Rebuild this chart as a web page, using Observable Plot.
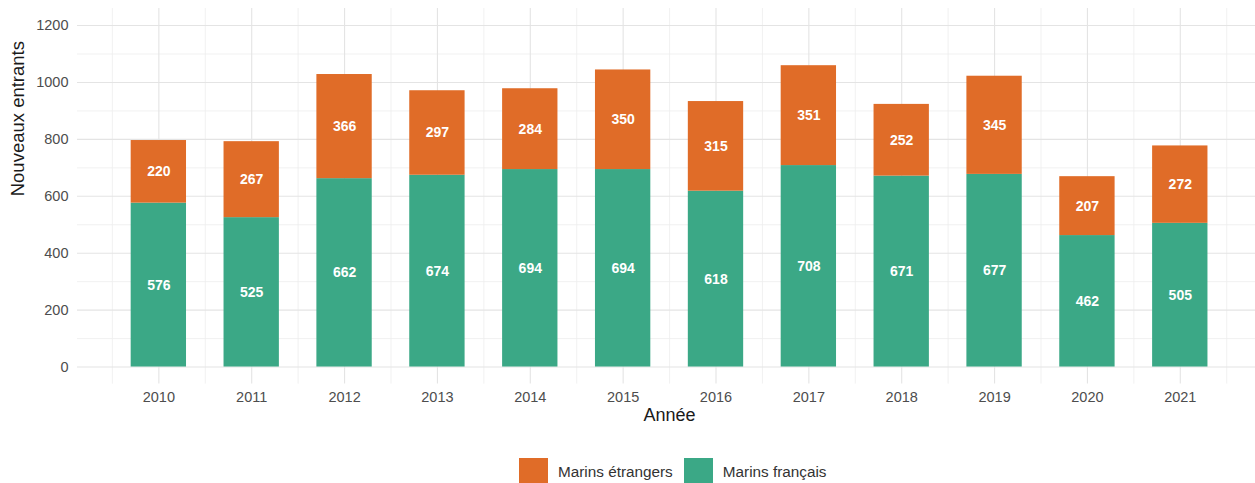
<!DOCTYPE html>
<html>
<head>
<meta charset="utf-8">
<script src="https://cdn.jsdelivr.net/npm/d3@7"></script>
<script src="https://cdn.jsdelivr.net/npm/@observablehq/plot@0.6"></script>
<style>
  html, body { margin: 0; padding: 0; background: #fff; }
  body { width: 1255px; height: 483px; position: relative; overflow: hidden; font-family: "Liberation Sans", Arial, sans-serif; }
  #chart svg { display: block; }
  #legend { position: absolute; left: 519px; top: 458px; display: flex; align-items: center; font-size: 15.3px; color: #333; }
  #legend .sw { width: 29px; height: 27px; display: inline-block; margin-right: 10px; }
  #legend .item { display: flex; align-items: center; margin-right: 11px; }
</style>
</head>
<body>
<div id="chart"></div>
<div id="legend"></div>
<script>
const years = [2010, 2011, 2012, 2013, 2014, 2015, 2016, 2017, 2018, 2019, 2020, 2021];
const francais = [576, 525, 662, 674, 694, 694, 618, 708, 671, 677, 462, 505];
const etrangers = [220, 267, 366, 297, 284, 350, 315, 351, 252, 345, 207, 272];
const series = ["Marins étrangers", "Marins français"];
const colors = ["#E06C28", "#3BA886"];
const yTicks = [0, 200, 400, 600, 800, 1000, 1200];
const yMinor = [100, 300, 500, 700, 900, 1100];
const xMinor = [2009.5, 2010.5, 2011.5, 2012.5, 2013.5, 2014.5, 2015.5, 2016.5, 2017.5, 2018.5, 2019.5, 2020.5, 2021.5];

const rows = [];
years.forEach((yr, i) => {
  rows.push({year: yr, serie: series[1], value: francais[i], y1: 0, y2: francais[i]});
  rows.push({year: yr, serie: series[0], value: etrangers[i], y1: francais[i], y2: francais[i] + etrangers[i]});
});

const W = 1255, H = 440;
const plot = Plot.plot({
  width: W,
  height: H,
  marginLeft: 77,
  marginRight: 0,
  marginTop: 8,
  marginBottom: H - 383.6,
  style: {fontFamily: "Liberation Sans, Arial, sans-serif", background: "#fff"},
  x: {type: "linear", domain: [2009.124, 2021.81], axis: null},
  y: {domain: [-60, 1260], axis: null},
  color: {domain: series, range: colors},
  marks: [
    Plot.gridY(yMinor, {stroke: "#eeeeee", strokeOpacity: 1, strokeWidth: 0.8}),
    Plot.gridX(xMinor, {stroke: "#eeeeee", strokeOpacity: 1, strokeWidth: 0.8}),
    Plot.gridY(yTicks, {stroke: "#e4e4e4", strokeOpacity: 1, strokeWidth: 1.1}),
    Plot.gridX(years, {stroke: "#e4e4e4", strokeOpacity: 1, strokeWidth: 1.1}),
    Plot.axisY(yTicks, {tickSize: 0, tickPadding: 9, fontSize: 14.5, fill: "#4d4d4d", label: null, tickFormat: d => String(d)}),
    Plot.axisX(years, {tickSize: 0, tickPadding: 8, fontSize: 14.5, fill: "#4d4d4d", label: null, tickFormat: d => String(d)}),
    Plot.rect(rows, {x1: d => d.year - 0.298, x2: d => d.year + 0.298, y1: "y1", y2: "y2", fill: "serie"}),
    Plot.text(rows, {x: "year", y: d => (d.y1 + d.y2) / 2, text: d => String(d.value), fill: "white", fontWeight: "bold", fontSize: 14}),
    Plot.text(["Année"], {frameAnchor: "bottom", dy: 37, dx: 3, fontSize: 18, fill: "#1a1a1a"}),
    Plot.text(["Nouveaux entrants"], {frameAnchor: "left", dx: -59, rotate: -90, fontSize: 18.5, fill: "#1a1a1a"})
  ]
});
document.getElementById("chart").appendChild(plot);

const leg = document.getElementById("legend");
series.forEach((s, i) => {
  const it = document.createElement("div");
  it.className = "item";
  const sw = document.createElement("span");
  sw.className = "sw";
  sw.style.background = colors[i];
  const t = document.createElement("span");
  t.textContent = s;
  it.appendChild(sw);
  it.appendChild(t);
  leg.appendChild(it);
});
</script>
</body>
</html>
